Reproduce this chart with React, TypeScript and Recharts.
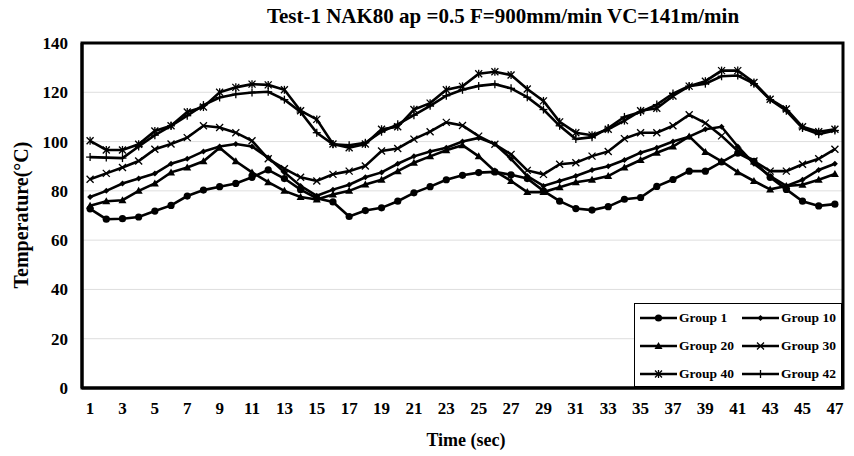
import { LineChart, Line, XAxis, YAxis, CartesianGrid, ReferenceArea, Label } from "recharts";

// time in seconds (category positions)
const times = [
  1, 2, 3, 4, 5, 6, 7, 8, 9, 10, 11, 12, 13, 14, 15, 16, 17, 18, 19, 20, 21, 22, 23, 24,
  25, 26, 27, 28, 29, 30, 31, 32, 33, 34, 35, 36, 37, 38, 39, 40, 41, 42, 43, 44, 45, 46, 47,
];
const xTicks = [1, 3, 5, 7, 9, 11, 13, 15, 17, 19, 21, 23, 25, 27, 29, 31, 33, 35, 37, 39, 41, 43, 45, 47];
const yTicks = [0, 20, 40, 60, 80, 100, 120, 140];

// temperatures (°C)
const group1 = [
  72.7, 68.5, 68.7, 69.4, 71.8, 74.1, 77.9, 80.3, 81.7, 83.0, 85.5, 88.5, 85.0, 80.5, 77.0, 75.5,
  69.6, 72.0, 73.1, 75.8, 79.2, 81.7, 84.5, 86.3, 87.4, 87.7, 86.5, 85.0, 80.0, 75.8, 72.8, 72.2,
  73.6, 76.6, 77.3, 81.8, 84.6, 88.0, 88.0, 91.7, 95.3, 92.0, 85.5, 80.6, 75.8, 73.9, 74.6,
];
const group10 = [
  77.5, 80.0, 83.0, 85.0, 87.0, 91.0, 93.0, 96.0, 98.0, 99.0, 98.0, 93.5, 87.5, 82.0, 78.0, 80.5,
  82.5, 85.5, 87.5, 91.0, 94.0, 96.0, 97.5, 100.0, 101.5, 99.0, 93.0, 86.0, 82.0, 84.0, 86.0, 88.5,
  90.0, 92.5, 95.5, 97.5, 100.0, 102.0, 105.0, 106.0, 98.0, 91.0, 86.0, 82.0, 84.5, 88.5, 91.0,
];
const group20 = [
  74.0, 75.8, 76.2, 80.0, 83.0, 87.5, 89.5, 92.0, 97.5, 92.0, 87.5, 83.5, 80.0, 77.5, 76.5, 78.5,
  80.0, 82.6, 84.5, 88.0, 91.4, 94.0, 96.5, 98.5, 94.0, 88.0, 84.0, 79.5, 79.5, 81.5, 83.5, 84.5,
  86.0, 89.5, 92.5, 95.5, 98.0, 102.1, 95.8, 92.0, 87.6, 84.0, 80.6, 82.0, 82.5, 84.5, 86.8,
];
const group30 = [
  84.7, 87.1, 89.5, 92.1, 96.9, 99.0, 101.6, 106.4, 105.7, 103.6, 100.3, 93.0, 89.0, 85.5, 84.0, 86.7,
  88.0, 90.1, 96.2, 97.2, 101.0, 104.0, 107.8, 106.5, 102.2, 98.9, 94.8, 88.3, 86.7, 90.8, 91.4, 94.1,
  96.0, 101.2, 103.6, 103.6, 106.4, 110.9, 107.5, 102.3, 96.2, 92.1, 88.0, 88.0, 90.8, 93.0, 96.9,
];
const group40 = [
  100.3, 96.6, 96.6, 98.9, 104.3, 106.4, 112.0, 114.0, 120.0, 122.0, 123.3, 123.0, 121.0, 112.5, 109.0, 99.0,
  97.5, 99.0, 105.0, 106.0, 113.0, 115.6, 121.0, 122.4, 127.5, 128.3, 127.0, 121.3, 116.5, 108.0, 103.6, 102.6,
  105.0, 108.5, 112.5, 113.5, 118.5, 122.5, 124.5, 128.8, 128.8, 124.0, 117.2, 113.2, 106.0, 104.0, 105.0,
];
const group42 = [
  93.7, 93.5, 93.3, 98.0, 102.6, 106.4, 110.5, 114.8, 117.9, 119.2, 119.9, 120.2, 117.0, 112.0, 103.6, 98.9,
  98.5, 99.5, 104.0, 107.0, 110.7, 114.5, 118.6, 121.0, 122.6, 123.3, 121.6, 118.0, 113.0, 106.4, 101.0, 101.8,
  105.5, 110.0, 112.0, 115.0, 119.5, 122.5, 123.5, 126.5, 126.8, 123.5, 117.0, 112.5, 105.5, 103.0, 104.5,
];

const seriesList = [
  { key: "g1", name: "Group 1", values: group1, marker: "circle" },
  { key: "g10", name: "Group 10", values: group10, marker: "diamond" },
  { key: "g20", name: "Group 20", values: group20, marker: "triangle" },
  { key: "g30", name: "Group 30", values: group30, marker: "cross" },
  { key: "g40", name: "Group 40", values: group40, marker: "star" },
  { key: "g42", name: "Group 42", values: group42, marker: "plus" },
];

const chartData = times.map((t, i) => {
  const row: any = { t };
  seriesList.forEach((s) => {
    row[s.key] = s.values[i];
  });
  return row;
});

const FONT = "'Liberation Serif', 'Times New Roman', serif";

function Marker({ kind, cx, cy }: { kind: string; cx: number; cy: number }) {
  const s = { stroke: "#000", strokeWidth: 1.3 };
  switch (kind) {
    case "circle":
      return <circle cx={cx} cy={cy} r={3.6} fill="#000" />;
    case "diamond":
      return <polygon points={`${cx},${cy - 3} ${cx + 3},${cy} ${cx},${cy + 3} ${cx - 3},${cy}`} fill="#000" />;
    case "triangle":
      return <polygon points={`${cx},${cy - 4} ${cx + 4},${cy + 3} ${cx - 4},${cy + 3}`} fill="#000" />;
    case "cross":
      return (
        <g {...s}>
          <line x1={cx - 3.5} y1={cy - 3.5} x2={cx + 3.5} y2={cy + 3.5} />
          <line x1={cx - 3.5} y1={cy + 3.5} x2={cx + 3.5} y2={cy - 3.5} />
        </g>
      );
    case "star":
      return (
        <g {...s}>
          <line x1={cx - 3.5} y1={cy - 3.5} x2={cx + 3.5} y2={cy + 3.5} />
          <line x1={cx - 3.5} y1={cy + 3.5} x2={cx + 3.5} y2={cy - 3.5} />
          <line x1={cx} y1={cy - 4} x2={cx} y2={cy + 4} />
        </g>
      );
    default:
      return (
        <g {...s}>
          <line x1={cx} y1={cy - 4} x2={cx} y2={cy + 4} />
          <line x1={cx - 4} y1={cy} x2={cx + 4} y2={cy} />
        </g>
      );
  }
}

const dotFor = (kind: string) => (p: any) =>
  p.cx == null ? <g key={p.index} /> : (
    <g key={p.index}>
      <Marker kind={kind} cx={p.cx} cy={p.cy} />
    </g>
  );

// legend drawn as a box in the lower right corner of the plot
function LegendBox() {
  return (
    <div
      style={{
        position: "absolute",
        left: 634,
        top: 303,
        width: 208,
        height: 84,
        boxSizing: "border-box",
        border: "1.5px solid #000",
        background: "#fff",
        display: "grid",
        gridTemplateColumns: "102px 102px",
        gridTemplateRows: "28px 28px 28px",
        paddingLeft: 5,
        fontFamily: FONT,
        fontWeight: "bold",
        fontSize: 13.5,
        color: "#000",
      }}
    >
      {seriesList.map((s) => (
        <div key={s.key} style={{ display: "flex", alignItems: "center" }}>
          <svg width={37} height={12} style={{ marginRight: 2 }}>
            <line x1={0} y1={6} x2={37} y2={6} stroke="#000" strokeWidth={2.5} />
            <Marker kind={s.marker} cx={18.5} cy={6} />
          </svg>
          <span>{s.name}</span>
        </div>
      ))}
    </div>
  );
}

export default function App() {
  return (
    <div style={{ position: "fixed", left: 0, top: 0, width: 854, height: 456, background: "#fff" }}>
      <div
        style={{
          position: "absolute",
          left: 503,
          top: 4,
          transform: "translateX(-50%)",
          whiteSpace: "nowrap",
          fontFamily: FONT,
          fontWeight: "bold",
          fontSize: 21,
          color: "#000",
        }}
      >
        Test-1 NAK80 ap =0.5 F=900mm/min VC=141m/min
      </div>
      <LineChart width={854} height={456} data={chartData} margin={{ top: 43, right: 11, bottom: 0, left: 0 }}>
        <CartesianGrid vertical={false} stroke="#dedede" strokeWidth={1} />
        <XAxis
          dataKey="t"
          type="number"
          domain={[0.5, 47.5]}
          ticks={xTicks}
          interval={0}
          height={68}
          tickLine={false}
          tickSize={6}
          tickMargin={8}
          axisLine={{ stroke: "#000", strokeWidth: 3 }}
          tick={{ fill: "#000", fontFamily: FONT, fontWeight: "bold", fontSize: 17 }}
        >
          <Label
            content={() => (
              <text x={466} y={446} textAnchor="middle" fontFamily={FONT} fontWeight="bold" fontSize={18} fill="#000">
                Time (sec)
              </text>
            )}
          />
        </XAxis>
        <YAxis
          type="number"
          domain={[0, 140]}
          ticks={yTicks}
          width={82}
          tickLine={false}
          tickSize={6}
          tickMargin={8}
          axisLine={{ stroke: "#000", strokeWidth: 3 }}
          tick={{ fill: "#000", fontFamily: FONT, fontWeight: "bold", fontSize: 17 }}
        >
          <Label
            content={() => (
              <text
                x={28}
                y={215}
                textAnchor="middle"
                transform="rotate(-90 28 215)"
                fontFamily={FONT}
                fontWeight="bold"
                fontSize={20}
                fill="#000"
              >
                Temperature(°C)
              </text>
            )}
          />
        </YAxis>
        <ReferenceArea x1={0.5} x2={47.5} y1={0} y2={140} fill="none" stroke="#000" strokeWidth={3} />
        {seriesList.map((s) => (
          <Line
            key={s.key}
            dataKey={s.key}
            name={s.name}
            type="linear"
            stroke="#000"
            strokeWidth={2.6}
            dot={dotFor(s.marker)}
            activeDot={false}
            isAnimationActive={false}
          />
        ))}
      </LineChart>
      <LegendBox />
    </div>
  );
}
